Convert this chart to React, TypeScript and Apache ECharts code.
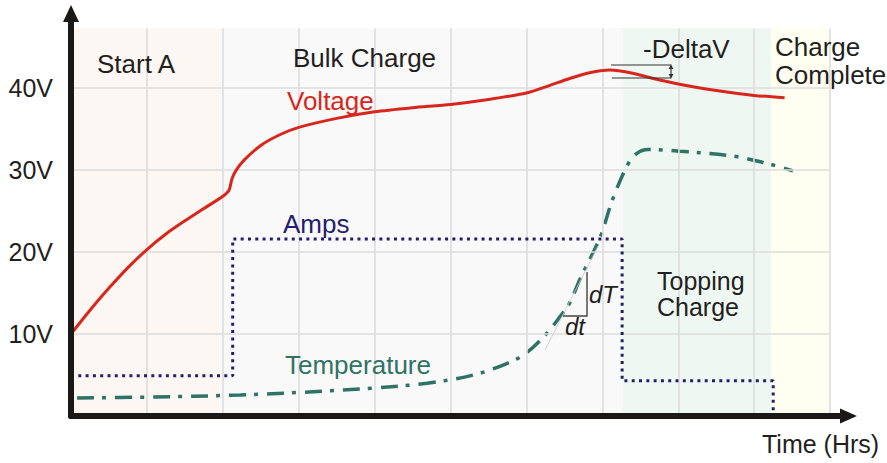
import React, { useEffect, useRef } from "react";
import * as echarts from "echarts";

// ---- data (x in hours, y in volts-scale units) ----
const voltageTime = [0, 0.25, 0.5, 0.75, 1.0, 1.25, 1.5, 1.75, 2.0, 2.08, 2.12, 2.17, 2.28, 2.5, 2.75, 3.0, 3.5, 4.0, 4.5, 5.0, 5.5, 6.0, 6.3, 6.55, 6.8, 7.1, 7.4, 7.7, 8.0, 8.5, 9.0, 9.4];
const voltage = [10, 12.9, 15.6, 18.1, 20.3, 22.2, 23.8, 25.3, 26.8, 27.5, 28.9, 29.9, 31.2, 33.0, 34.3, 35.2, 36.3, 37.1, 37.6, 38.0, 38.6, 39.4, 40.3, 41.1, 41.8, 42.2, 41.8, 41.1, 40.5, 39.7, 39.1, 38.8];

const ampsTime = [0, 2.13, 2.13, 7.26, 7.26, 9.25, 9.25];
const amps = [4.9, 4.9, 21.6, 21.6, 4.3, 4.3, 0];

const tempTime = [0.08, 1.0, 2.23, 3.06, 3.98, 4.69, 5.3, 5.74, 6.0, 6.27, 6.44, 6.57, 6.7, 6.97, 7.13, 7.33, 7.45, 7.6, 8.02, 8.72, 9.21, 9.51];
const temperature = [2.2, 2.3, 2.56, 2.9, 3.4, 4.0, 5.0, 6.4, 7.7, 10.1, 12.1, 13.8, 16.6, 21.8, 26.3, 30.6, 32.0, 32.5, 32.3, 31.7, 30.7, 29.9];

const phaseNames = ["Start A", "Bulk Charge", "Topping Charge", "Charge Complete"];
const phaseBounds = [0, 2, 7.27, 9.22, 10];
const phaseColors = ["#fcf7f3", "#f9f9f9", "#eef7f2", "#fefef1"];

const yTicks = [10, 20, 30, 40];
const xTicks = [1, 2, 3, 4, 5, 6, 7, 8, 9, 10];
const plotTop = 47.3;
const plotRight = 10;

const FONT = '"Liberation Sans", Arial, Helvetica, sans-serif';

function pairs(xs: number[], ys: number[]) {
  return xs.map((x, i) => [x, ys[i]]);
}

function txt(text: string, x: number, y: number, fill: string, extra: any = {}) {
  return {
    type: "text",
    x,
    y,
    z: 50,
    style: {
      text,
      fill,
      font: `${extra.italic ? "italic " : ""}${extra.size || 26}px ${FONT}`,
      lineHeight: extra.lineHeight,
      textAlign: extra.align || "left",
      textVerticalAlign: "middle",
    },
  };
}

export default function App() {
  const ref = useRef<HTMLDivElement>(null);

  useEffect(() => {
    if (!ref.current) return;
    const chart = echarts.init(ref.current, undefined, { renderer: "svg" });

    const gridLines: any[] = [];
    yTicks.forEach((v) => gridLines.push([{ coord: [0, v] }, { coord: [plotRight, v] }]));
    xTicks.forEach((v) => gridLines.push([{ coord: [v, 0] }, { coord: [v, plotTop] }]));

    const areas = phaseNames.map((n, i) => [
      { name: n, xAxis: phaseBounds[i], yAxis: 0, itemStyle: { color: phaseColors[i] } },
      { xAxis: phaseBounds[i + 1], yAxis: plotTop },
    ]);

    const dark = "#333";
    const option: any = {
      animation: false,
      backgroundColor: "#ffffff",
      textStyle: { fontFamily: FONT },
      grid: { left: 71, right: 47, top: 22, bottom: 47, containLabel: false },
      xAxis: {
        type: "value",
        min: 0,
        max: 10.13,
        interval: 1,
        z: 10,
        axisLine: {
          show: true,
          lineStyle: { color: "#1b1818", width: 6 },
          symbol: ["none", "triangle"],
          symbolSize: [15, 17],
          symbolOffset: [0, 8.5],
        },
        axisTick: { show: false },
        axisLabel: { show: false },
        splitLine: { show: false },
      },
      yAxis: {
        type: "value",
        min: 0,
        max: 48.05,
        interval: 10,
        z: 10,
        axisLine: {
          show: true,
          lineStyle: { color: "#1b1818", width: 6 },
          symbol: ["none", "triangle"],
          symbolSize: [16, 17],
          symbolOffset: [0, 8.5],
        },
        axisTick: { show: false },
        axisLabel: {
          margin: 18,
          fontSize: 25,
          color: "#231f20",
          fontFamily: FONT,
          formatter: (v: number) => (v > 0 && Math.abs(v % 10) < 1e-6 ? `${v}V` : ""),
        },
        splitLine: { show: false },
      },
      series: [
        {
          name: "phases",
          type: "line",
          data: [],
          z: 0,
          silent: true,
          markArea: { silent: true, label: { show: false }, data: areas },
        },
        {
          name: "grid",
          type: "line",
          data: [],
          z: 1,
          silent: true,
          markLine: {
            silent: true,
            symbol: ["none", "none"],
            label: { show: false },
            lineStyle: { color: "#dcdcdc", width: 1.6, type: "solid" },
            data: gridLines,
          },
        },
        {
          name: "Temperature",
          type: "line",
          data: pairs(tempTime, temperature),
          smooth: 0.35,
          showSymbol: false,
          z: 4,
          lineStyle: { color: "#2e7363", width: 3.5, type: [17, 8, 4, 9], cap: "butt" },
        },
        {
          name: "Amps",
          type: "line",
          data: pairs(ampsTime, amps),
          smooth: false,
          showSymbol: false,
          z: 5,
          lineStyle: { color: "#251d70", width: 3, type: [3, 4.3], cap: "butt" },
        },
        {
          name: "Voltage",
          type: "line",
          data: pairs(voltageTime, voltage),
          smooth: 0.25,
          showSymbol: false,
          z: 6,
          lineStyle: { color: "#d9261c", width: 3 },
        },
      ],
      graphic: [
        txt("Start A", 97, 64, "#231f20"),
        txt("Bulk Charge", 293, 58, "#231f20"),
        txt("Voltage", 287, 101, "#d9261c"),
        txt("-DeltaV", 643, 49, "#231f20"),
        txt("Charge\nComplete", 775, 61, "#231f20", { lineHeight: 28 }),
        txt("Amps", 283, 224, "#251d70"),
        txt("Temperature", 285, 365, "#2e7363"),
        txt("Topping\nCharge", 657, 294, "#231f20", { size: 25, lineHeight: 26 }),
        txt("dT", 589, 294, "#231f20", { italic: true, size: 24 }),
        txt("dt", 565, 326, "#231f20", { italic: true, size: 24 }),
        txt("Time (Hrs)", 762, 444, "#231f20", { size: 25 }),
        // dT/dt tangent and triangle
        { type: "line", z: 40, shape: { x1: 545, y1: 350, x2: 598, y2: 246 }, style: { stroke: "#c8c8c8", lineWidth: 0.8 } },
        { type: "polyline", z: 40, shape: { points: [[587, 272], [587, 316], [563, 316]] }, style: { stroke: "#444", lineWidth: 1.4, fill: null } },
        // -DeltaV marker
        { type: "line", z: 40, shape: { x1: 611, y1: 65, x2: 671, y2: 65 }, style: { stroke: dark, lineWidth: 1.2 } },
        { type: "line", z: 40, shape: { x1: 612, y1: 78, x2: 671, y2: 78 }, style: { stroke: dark, lineWidth: 1.2 } },
        { type: "line", z: 40, shape: { x1: 671, y1: 67, x2: 671, y2: 76 }, style: { stroke: dark, lineWidth: 1.2 } },
        { type: "polygon", z: 40, shape: { points: [[671, 64], [668.7, 69], [673.3, 69]] }, style: { fill: dark } },
        { type: "polygon", z: 40, shape: { points: [[671, 79], [668.7, 74], [673.3, 74]] }, style: { fill: dark } },
      ],
    };

    chart.setOption(option);
    return () => chart.dispose();
  }, []);

  return (
    <div
      ref={ref}
      style={{ position: "fixed", left: 0, top: 0, width: 887, height: 463, background: "#fff" }}
    />
  );
}
